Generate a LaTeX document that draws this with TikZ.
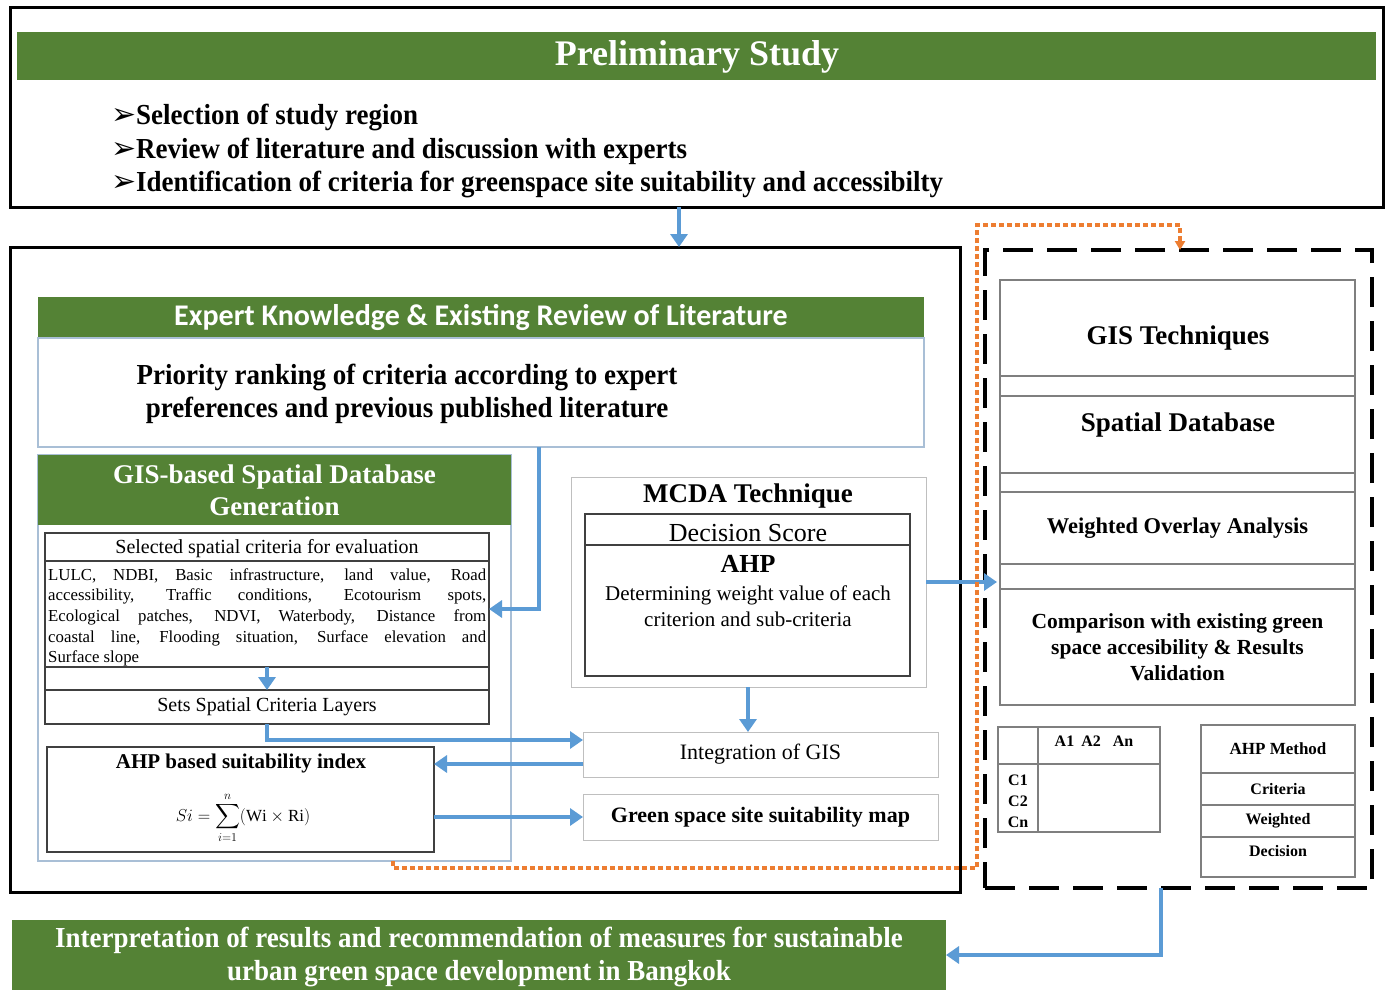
\documentclass[tikz,border=0pt]{standalone}
\usepackage{amsmath}
\usepackage{exscale}
\usepackage{fontspec}
\setmainfont{Liberation Serif}
\newfontfamily\condA[FakeStretch=0.93]{Liberation Serif}
\newfontfamily\calib{Carlito}
\newfontfamily\dejavu{DejaVu Sans}
\usetikzlibrary{arrows.meta}
\definecolor{gr}{HTML}{548235}
\definecolor{bl}{HTML}{5B9BD5}
\definecolor{orng}{HTML}{ED7D31}
\definecolor{lb}{HTML}{A9BFD6}
\definecolor{gy}{HTML}{7F7F7F}
\definecolor{lgy}{HTML}{BFBFBF}
\newcommand\rbox[7]{\node[align=center,#1,anchor=north west,inner sep=0pt,outer sep=0pt,minimum width={(#5-#3)*1pt},minimum height={(#6-#4)*1pt}] (#2) at (#3,#4) {#7};}
\newcommand\fs[1]{\fontsize{#1}{#1}\selectfont}
\begin{document}
\begin{tikzpicture}[x=1pt,y=-1pt,
  thickbox/.style={draw=black,line width=3pt},
  greenbar/.style={fill=gr,text=white,align=center},
  lightbox/.style={draw=lb,line width=1.2pt},
  lgbox/.style={draw=lgy,line width=1pt},
  gybox/.style={draw=gy,line width=1.1pt},
  dkbox/.style={draw=black!75,line width=1.1pt},
  dashbox/.style={draw=black,line width=4pt,dash pattern=on 30pt off 14pt},
  flow/.style={draw=bl,line width=4pt,-{Triangle[length=13pt,width=17pt]}},
  orlink/.style={draw=orng,line width=3.2pt,dash pattern=on 5pt off 3pt,-{Triangle[length=9pt,width=10pt]}},
  txt/.style={inner sep=0pt,outer sep=0pt,align=center}]
\useasboundingbox (0,0) rectangle (1389,990);
\fill[white] (0,0) rectangle (1389,990);

% ---------- Preliminary study ----------
\rbox{thickbox}{prelim}{10}{8}{1383}{207}{}
\rbox{greenbar}{prelimhead}{17}{32}{1376}{80}{}
\node[txt,text=white,font=\bfseries\fs{36}] (prelimt) at (697,57) {Preliminary Study};
\node[txt,anchor=west,align=left,font=\condA\bfseries\fontsize{29}{33.5}\selectfont] (bullets) at (111,151)
 {{\dejavu\fs{30}➢}Selection of study region\\
  {\dejavu\fs{30}➢}Review of literature and discussion with experts\\
  {\dejavu\fs{30}➢}Identification of criteria for greenspace site suitability and accessibilty};

% ---------- Left big box ----------
\rbox{thickbox}{leftbox}{10}{247}{960}{892}{}
\rbox{greenbar,font=\calib\bfseries\fs{30}}{experthead}{38}{297}{924}{338}{Expert Knowledge \& Existing Review of Literature}
\rbox{lightbox}{prio}{38}{338}{924}{447}{}
\node[txt,font=\condA\bfseries\fontsize{29}{32.5}\selectfont] (priotext) at (407,394)
 {Priority ranking of criteria according to expert\\preferences and previous published literature};

% GIS-based
\rbox{lightbox}{gisbox}{38}{455}{511}{861}{}
\rbox{greenbar,font=\bfseries\fontsize{27}{32}\selectfont}{gishead}{38}{455}{511}{525}{GIS-based Spatial Database\\Generation}
\rbox{dkbox}{seltitle}{45}{533}{489}{561}{}
\node[txt,font=\fs{20}] (seltt) at (267,549) {Selected spatial criteria for evaluation};
\rbox{dkbox}{crit}{45}{561}{489}{667}{}
\node[inner sep=0pt,anchor=north west,text width=438pt,align=justify,font=\fontsize{16.8}{20.7}\selectfont] (crittext) at (48,568)
 {\hyphenpenalty=10000 LULC, NDBI, Basic infrastructure, land value, Road\linebreak accessibility, Traffic conditions, Ecotourism spots,\linebreak Ecological patches, NDVI, Waterbody, Distance from\linebreak coastal line, Flooding situation, Surface elevation and\linebreak Surface slope};
\rbox{dkbox}{blank}{45}{667}{489}{690}{}
\rbox{dkbox,font=\fs{20}}{sets}{45}{690}{489}{724}{Sets Spatial Criteria Layers}
\rbox{dkbox}{ahpidx}{47}{747}{434}{852}{}
\node[txt,font=\bfseries\fs{21}] (ahpidxt) at (241,763) {AHP based suitability index};
\node[txt,font=\fs{17}] (formula) at (243,818) {$\displaystyle Si = \sum_{i=1}^{n}(\mathrm{Wi}\times\mathrm{Ri})$};

% MCDA
\rbox{lgbox}{mcda}{571}{477}{926}{687}{}
\node[txt,font=\bfseries\fs{27}] (mcdat) at (748,496) {MCDA Technique};
\rbox{dkbox}{dscore}{585}{514}{910}{676}{}
\draw[black!75,line width=1.1pt] (dscore.west |- 0,545) -- (dscore.east |- 0,545);
\node[txt,font=\fs{26}] (dst) at (748,533) {Decision Score};
\node[txt,font=\bfseries\fs{26}] (ahpt) at (748,564) {AHP};
\node[txt,font=\fontsize{21}{26}\selectfont] (detert) at (748,606) {Determining weight value of each\\criterion and sub-criteria};

\rbox{lgbox,font=\fs{22}}{integ}{583}{732}{938}{777}{Integration of GIS}
\rbox{lgbox,font=\bfseries\fs{22}}{gmap}{583}{794}{938}{840}{Green space site suitability map}

% ---------- Right dashed box ----------
\rbox{dashbox}{rightbox}{985}{250}{1372}{888}{}
\rbox{gybox}{gistech}{1000}{280}{1355}{376}{}
\node[txt,font=\bfseries\fs{27}] (gistecht) at (1178,338) {GIS Techniques};
\rbox{gybox}{band1}{1000}{376}{1355}{396}{}
\rbox{gybox}{spdb}{1000}{396}{1355}{473}{}
\node[txt,font=\bfseries\fs{27}] (spdbt) at (1178,425) {Spatial Database};
\rbox{gybox}{band2}{1000}{473}{1355}{492}{}
\rbox{gybox,font=\bfseries\fs{22.5}}{woa}{1000}{492}{1355}{564}{Weighted Overlay Analysis}
\rbox{gybox}{band3}{1000}{564}{1355}{589}{}
\rbox{gybox,font=\bfseries\fontsize{21.5}{26}\selectfont}{comp}{1000}{589}{1355}{705}{Comparison with existing green\\space accesibility \& Results\\Validation}

% table
\rbox{gybox}{tbl}{998}{727}{1160}{832}{}
\draw[gy,line width=1.1pt] (tbl.north -| 1038,0) -- (tbl.south -| 1038,0);
\draw[gy,line width=1.1pt] (tbl.west |- 0,764) -- (tbl.east |- 0,764);
\node[txt,font=\bfseries\fs{16}] (acol) at (1094,741) {A1\hspace{7pt}A2\hspace{12pt}An};
\node[txt,font=\bfseries\fontsize{16}{21}\selectfont] (crow) at (1018,801) {C1\\C2\\Cn};

\rbox{gybox,font=\bfseries\fs{17}}{ahpm}{1201}{725}{1355}{773}{AHP Method}
\rbox{gybox,font=\bfseries\fs{16}}{critc}{1201}{773}{1355}{805}{Criteria}
\rbox{gybox,font=\bfseries\fs{16}}{weic}{1201}{805}{1355}{837}{Weighted}
\rbox{gybox}{decc}{1201}{837}{1355}{877}{}
\node[txt,font=\bfseries\fs{16}] (dect) at (1278,851) {Decision};

% bottom
\rbox{greenbar}{interp}{12}{920}{946}{995}{}
\node[txt,text=white,font=\condA\bfseries\fontsize{29}{32.5}\selectfont] (interpt) at (479,957)
 {Interpretation of results and recommendation of measures for sustainable\\urban green space development in Bangkok};

% ---------- connectors ----------
\draw[flow] (prelim.south -| 679,0) -- (leftbox.north -| 679,0);
\draw[flow] (prio.south -| 539,0) |- (crit.east |- 0,609);
\draw[flow] (crit.south -| 267,0) -- (sets.north -| 267,0);
\draw[flow] (sets.south -| 267,0) |- (integ.west |- 0,740);
\draw[flow] (integ.west |- 0,764) -- (ahpidx.east |- 0,764);
\draw[flow] (ahpidx.east |- 0,817) -- (gmap.west |- 0,817);
\draw[flow] (mcda.south -| 748,0) -- (integ.north -| 748,0);
\draw[flow] (mcda.east |- 0,582) -- (997,582);
\draw[flow] (rightbox.south -| 1161,0) |- (interp.east |- 0,955);
\draw[orlink] (gisbox.south -| 393,0) |- (977,868) |- (1180,225) -- (rightbox.north -| 1180,0);
\end{tikzpicture}
\end{document}
